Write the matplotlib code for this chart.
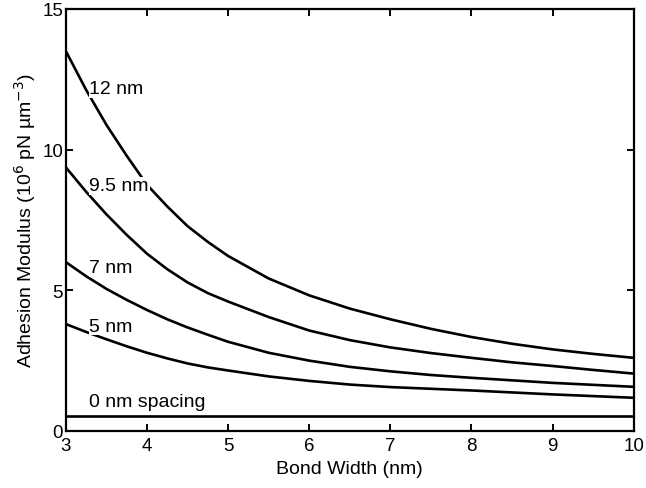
import matplotlib
matplotlib.use("Agg")
import matplotlib.pyplot as plt

plt.rcParams['font.family'] = ['Liberation Sans', 'DejaVu Sans']

# bond width (nm) where the curves were read
bond_width = [3.0, 3.25, 3.5, 3.75, 4.0, 4.25, 4.5, 4.75, 5.0, 5.5,
              6.0, 6.5, 7.0, 7.5, 8.0, 8.5, 9.0, 9.5, 10.0]

# adhesion modulus (10^6 pN um^-3) for each spacing
mod_12 = [13.5, 12.12, 10.88, 9.78, 8.75, 7.98, 7.28, 6.72, 6.22, 5.42,
          4.82, 4.35, 3.97, 3.63, 3.34, 3.1, 2.9, 2.74, 2.6]
mod_95 = [9.37, 8.5, 7.7, 6.97, 6.3, 5.75, 5.28, 4.9, 4.6, 4.05,
          3.57, 3.23, 2.97, 2.77, 2.6, 2.44, 2.31, 2.17, 2.04]
mod_7 = [6.0, 5.5, 5.05, 4.66, 4.3, 3.97, 3.68, 3.42, 3.17, 2.78,
         2.5, 2.28, 2.12, 1.99, 1.89, 1.8, 1.71, 1.64, 1.57]
mod_5 = [3.8, 3.52, 3.26, 3.01, 2.78, 2.58, 2.4, 2.26, 2.15, 1.94,
         1.78, 1.65, 1.56, 1.5, 1.44, 1.37, 1.3, 1.24, 1.18]
mod_0 = [0.53] * len(bond_width)

curves = [mod_12, mod_95, mod_7, mod_5, mod_0]
labels = ['12 nm', '9.5 nm', '7 nm', '5 nm', '0 nm spacing']
label_y = [12.18, 8.71, 5.81, 3.73, 1.06]

fig = plt.figure(figsize=(6.46, 4.89), dpi=100)
ax = fig.add_axes([0.102, 0.1166, 0.879, 0.863])

for vals in curves:
    ax.plot(bond_width, vals, color='black', linewidth=1.9, solid_capstyle='butt')

for lab, y in zip(labels, label_y):
    ax.text(3.29, y, lab, ha='left', va='center', fontsize=14, zorder=5,
            bbox=dict(facecolor='white', edgecolor='none', pad=0.6))

ax.set_xlim(3, 10)
ax.set_ylim(0, 15)
ax.set_xticks(range(3, 11))
ax.set_yticks([0, 5, 10, 15])

for sp in ax.spines.values():
    sp.set_linewidth(1.6)

ax.tick_params(direction='in', top=True, right=True, length=5, width=1.4,
               labelsize=13.5)
ax.tick_params(axis='x', pad=4)
ax.tick_params(axis='y', pad=2)

ax.set_xlabel('Bond Width (nm)', fontsize=14)
ax.xaxis.set_label_coords(0.5, -0.088)
ax.xaxis.label.set_va('center')
ax.set_ylabel('Adhesion Modulus (10$^6$ pN \u00b5m$^{-3}$)', fontsize=14)
ax.yaxis.set_label_coords(-0.072, 0.5)
ax.yaxis.label.set_va('center')

fig.savefig('out.png', dpi=100)
